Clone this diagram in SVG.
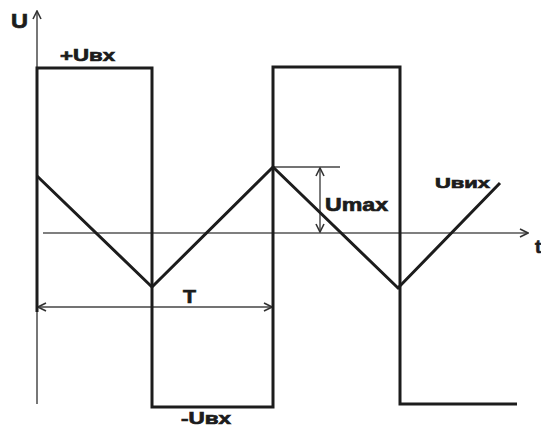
<svg xmlns="http://www.w3.org/2000/svg" width="541" height="427" viewBox="0 0 541 427">
<defs>
<marker id="arr" viewBox="0 0 10 10" refX="9" refY="5" markerWidth="10" markerHeight="10" markerUnits="userSpaceOnUse" orient="auto-start-reverse">
<path d="M1,1 L9,5 L1,9" fill="none" stroke="#333" stroke-width="1.6"/>
</marker>
</defs>
<style>
.ax{stroke:#555;stroke-width:1.6;fill:none}
.sig{stroke:#1c1c1c;stroke-width:3;fill:none;stroke-linejoin:miter}
.dim{stroke:#444;stroke-width:1.4;fill:none}
.lbl{font-family:"Liberation Sans",Arial,sans-serif;font-weight:bold;fill:#1c1c1c;stroke:#1c1c1c;stroke-width:0.7}
</style>
<rect width="541" height="427" fill="#fff"/>
<g id="connectors">
<line id="axis-u" class="ax" x1="37" y1="404" x2="37" y2="11" marker-end="url(#arr)"/>
<line id="axis-t" class="ax" x1="43" y1="233" x2="528" y2="233" marker-end="url(#arr)"/>
<line class="dim" x1="273" y1="167" x2="340" y2="167"/>
<line id="umax-arrow" class="dim" x1="320" y1="168" x2="320" y2="232" marker-start="url(#arr)" marker-end="url(#arr)"/>
<line id="t-arrow" class="dim" x1="38" y1="307" x2="272" y2="307" marker-start="url(#arr)" marker-end="url(#arr)"/>
</g>
<g id="input-square">
<polyline class="sig" points="37,312 37,68 152,68 152,407 273,407 273,67 400,67 400,404 517,404"/>
</g>
<g id="output-triangle">
<polyline class="sig" points="37,176 152,287 273,167 398,288 500,183"/>
</g>
<g id="labels">
<text class="lbl" x="11" y="28" font-size="21" textLength="17" lengthAdjust="spacingAndGlyphs">U</text>
<text class="lbl" x="60" y="61" font-size="17" textLength="55" lengthAdjust="spacingAndGlyphs">+Uвх</text>
<text class="lbl" x="181" y="424" font-size="16" textLength="50" lengthAdjust="spacingAndGlyphs">-Uвх</text>
<text class="lbl" x="325" y="211" font-size="19" textLength="63" lengthAdjust="spacingAndGlyphs">Umax</text>
<text class="lbl" x="435" y="188" font-size="15" textLength="55" lengthAdjust="spacingAndGlyphs">Uвих</text>
<text class="lbl" x="183" y="303" font-size="19" textLength="13" lengthAdjust="spacingAndGlyphs">T</text>
<text class="lbl" x="535" y="253" font-size="19">t</text>
</g>
</svg>
